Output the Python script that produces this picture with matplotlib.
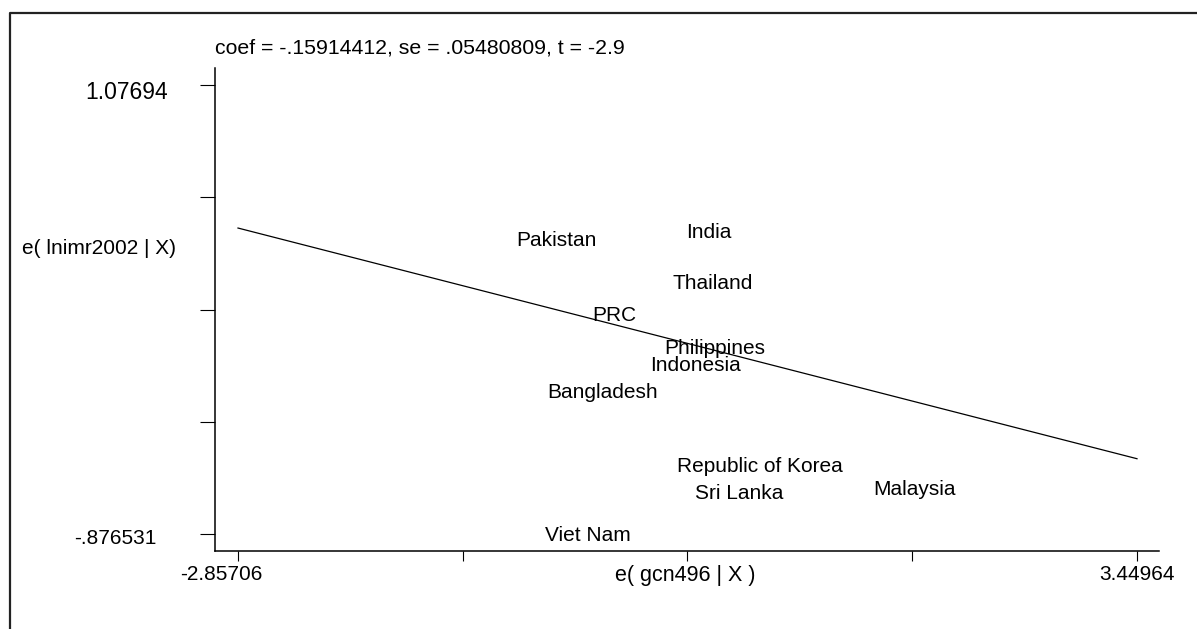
import numpy as np
import matplotlib
matplotlib.use("Agg")
import matplotlib.pyplot as plt
from matplotlib.lines import Line2D
from matplotlib.transforms import ScaledTranslation

plt.rcParams['font.family'] = ['Liberation Sans', 'DejaVu Sans']

# Added-variable plot: residuals of lnimr2002 vs residuals of gcn496
countries = ['Pakistan', 'India', 'Thailand', 'PRC', 'Philippines', 'Indonesia',
             'Bangladesh', 'Republic of Korea', 'Sri Lanka', 'Malaysia', 'Viet Nam']
e_gcn496 = [-0.623, 0.447, 0.475, -0.216, 0.486, 0.349,
            -0.300, 0.805, 0.658, 1.889, -0.405]
e_lnimr2002 = [0.411, 0.442, 0.224, 0.083, -0.059, -0.133,
               -0.250, -0.576, -0.692, -0.676, -0.873]

coef = -0.15914412
se = 0.05480809
t_stat = -2.9

x_min, x_max = -2.85706, 3.44964
y_min, y_max = -0.876531, 1.07694

W, H = 1197, 629
fig = plt.figure(figsize=(W / 100, H / 100), dpi=100)
ax = fig.add_axes([215 / W, 1 - 551 / H, (1159 - 215) / W, (551 - 68) / H])

# fitted line through the origin over the observed x range
fit_x = np.array([x_min, x_max])
ax.plot(fit_x, coef * fit_x, color='black', lw=0.9)

for name, xv, yv in zip(countries, e_gcn496, e_lnimr2002):
    ax.annotate(name, (xv, yv), xytext=(0, -5.4), textcoords='offset points',
                ha='center', va='baseline', fontsize=15)

ax.set_xlim(-3.0184, 3.6040)
ax.set_ylim(-0.9505, 1.151)

for side in ('top', 'right'):
    ax.spines[side].set_visible(False)
for side in ('left', 'bottom'):
    ax.spines[side].set_linewidth(1.1)

ax.set_xticks(np.linspace(x_min, x_max, 5))
ax.set_xticklabels(['-2.85706', '', '', '', '3.44964'])
ax.set_yticks(np.linspace(y_min, y_max, 5))
ax.set_yticklabels(['-.876531', '', '', '', '1.07694'])
ax.tick_params(axis='x', length=7.2, width=0.8, pad=3, labelsize=15)
ax.tick_params(axis='y', length=10.8, width=0.8, pad=28, labelsize=15)


def nudge(label, dx_px, dy_px=0):
    label.set_transform(label.get_transform() +
                        ScaledTranslation(dx_px / 100, dy_px / 100, fig.dpi_scale_trans))


# end labels are not quite centred on their ticks
nudge(ax.get_xticklabels()[0], -17)
ylabs = ax.get_yticklabels()
ylabs[-1].set_fontsize(16.5)
nudge(ylabs[-1], 7, -5)
nudge(ylabs[0], -5, -3)

ax.set_xlabel('e( gcn496 | X )', fontsize=15.5, va='top')
ax.xaxis.set_label_coords(0.498, (551 - 565) / (551 - 68))

fig.text(215 / W, 1 - 53 / H,
         f'coef = {coef:.8f}, se = {se:.8f}, t = {t_stat}'.replace('0.', '.'),
         fontsize=15.3, ha='left', va='baseline')
fig.text(22 / W, 1 - 254 / H, 'e( lnimr2002 | X)', fontsize=15,
         ha='left', va='baseline')

# outer frame (left and top edges)
fig.add_artist(Line2D([10 / W, 10 / W, 1.0], [0.0, 1 - 13 / H, 1 - 13 / H],
                      transform=fig.transFigure, color='#222222', lw=1.6))

fig.savefig('out.png', dpi=100)
